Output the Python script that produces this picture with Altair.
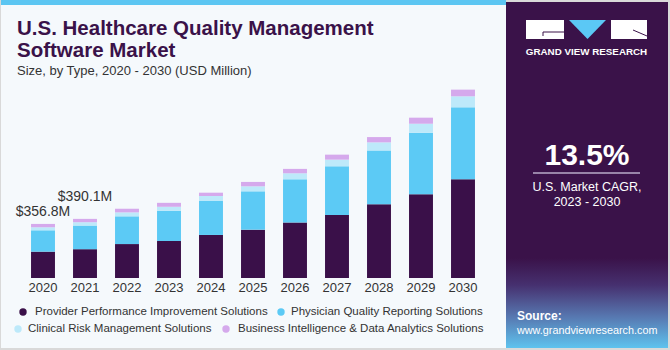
import altair as alt
import pandas as pd

# ---------------- data ----------------
years = [str(y) for y in range(2020, 2031)]
series = [
    "Provider Performance Improvement Solutions",
    "Physician Quality Reporting Solutions",
    "Clinical Risk Management Solutions",
    "Business Intelligence & Data Analytics Solutions",
]
provider = [173.8, 190.1, 224, 244, 284, 319, 367, 416, 486, 552, 651]
physician = [141, 156, 183, 200, 224, 253, 284, 321, 356, 407, 475]
clinical = [20, 22, 26, 26, 33, 33, 40, 44, 53, 59, 73]
bi_analytics = [22, 22, 24, 26, 22, 29, 29, 33, 35, 40, 44]
colors = ["#3a1049", "#5ccaf5", "#bde9fa", "#d5a9ec"]

label_years = ["2020", "2021"]
label_texts = ["$356.8M", "$390.1M"]

rows = []
for i, y in enumerate(years):
    for k, vals in enumerate([provider, physician, clinical, bi_analytics]):
        rows.append({"year": y, "segment": series[k], "value": vals[i], "order": k})
df = pd.DataFrame(rows)
totals = pd.DataFrame({"year": years,
                       "total": [a + b + c + d for a, b, c, d in zip(provider, physician, clinical, bi_analytics)]})
labels = totals[totals["year"].isin(label_years)].copy()
labels["text"] = label_texts
one = pd.DataFrame({"a": [0]})

DARK = "#3a1249"
FONT = "Liberation Sans"

x_enc = alt.X("year:N", axis=None,
              scale=alt.Scale(domain=years, range=[22, 484], paddingInner=0.43, paddingOuter=0.215))
y_scale = alt.Scale(domain=[0, 1300], range=[278, 81])

base1 = alt.Chart(one)

def rect(x, x2, y, y2, color, **kw):
    return base1.mark_rect(color=color, **kw).encode(
        x=alt.value(x), x2=alt.value(x2), y=alt.value(y), y2=alt.value(y2))

def text(t, x, y, size, color, weight="normal", align="left", baseline="alphabetic", **kw):
    return base1.mark_text(text=t, fontSize=size, color=color, fontWeight=weight, font=FONT,
                           align=align, baseline=baseline, **kw).encode(x=alt.value(x), y=alt.value(y))

# ------------- panels -------------
left_bg = rect(1, 506, 0, 348, "#f5f9fc")
top_stripe = rect(1, 506, 0, 5, "#5cc6f2")
right_bg = rect(506, 668, 2, 348, DARK)
grad = base1.mark_rect(color=alt.LinearGradient(
    gradient="linear", x1=0, x2=0, y1=0, y2=1,
    stops=[alt.GradientStop(color=DARK, offset=0),
           alt.GradientStop(color="#46306f", offset=0.3),
           alt.GradientStop(color="#5777b0", offset=0.65),
           alt.GradientStop(color="#5ec3ee", offset=1)])).encode(
    x=alt.value(506), x2=alt.value(668), y=alt.value(258), y2=alt.value(348))

# logo
logo_l = rect(526, 564, 20, 39, "#ffffff")
logo_r = rect(611, 647, 20, 39, "#ffffff")
logo_tri = base1.mark_point(shape="M -1 -0.51 L 1 -0.51 L 0 0.51 Z", size=1369, filled=True,
                            opacity=1, color="#5bc8f5").encode(x=alt.value(587.5), y=alt.value(29.5))
logo_line1 = base1.mark_rule(color=DARK, strokeWidth=1).encode(
    x=alt.value(543), x2=alt.value(564), y=alt.value(32), y2=alt.value(32))
logo_line2 = base1.mark_rule(color=DARK, strokeWidth=1).encode(
    x=alt.value(543), x2=alt.value(543), y=alt.value(32), y2=alt.value(36))
logo_line3 = base1.mark_rule(color=DARK, strokeWidth=1).encode(
    x=alt.value(633), x2=alt.value(647), y=alt.value(30), y2=alt.value(36))
logo_text = text("GRAND VIEW RESEARCH", 586.5, 55, 9.8, "#ffffff", weight="bold", align="center")

cagr = text("13.5%", 587, 165, 30, "#ffffff", weight="bold", align="center")
divider = base1.mark_rule(color="#b9abc9", strokeWidth=1.5).encode(
    x=alt.value(533), x2=alt.value(640), y=alt.value(173), y2=alt.value(173))
cagr_txt = text(["U.S. Market CAGR,", "2023 - 2030"], 587, 191, 12.5, "#ffffff",
                align="center", lineHeight=15)
src1 = text("Source:", 517, 320, 12, "#ffffff", weight="bold")
src2 = text("www.grandviewresearch.com", 517, 334, 10.8, "#ffffff")

# ------------- titles -------------
t1 = text("U.S. Healthcare Quality Management", 17, 35, 20.5, DARK, weight="bold")
t2 = text("Software Market", 17, 57, 20.5, DARK, weight="bold")
t3 = text("Size, by Type, 2020 - 2030 (USD Million)", 17, 75, 13, "#333333")

# ------------- bars -------------
bars = alt.Chart(df).mark_bar().encode(
    x=x_enc,
    y=alt.Y("value:Q", stack="zero", scale=y_scale, axis=None),
    color=alt.Color("segment:N", scale=alt.Scale(domain=series, range=colors), legend=None),
    order=alt.Order("order:Q"),
)

year_labels = alt.Chart(totals).mark_text(fontSize=13, color="#333333", font=FONT,
                                          baseline="alphabetic").encode(
    x=x_enc, y=alt.value(292), text="year:N")

lab_a = alt.Chart(labels).transform_filter(alt.datum.year == "2020").mark_text(
    fontSize=14, color="#333333", font=FONT, baseline="alphabetic", dy=-8).encode(
    x=x_enc, y=alt.Y("total:Q", scale=y_scale, axis=None), text="text:N")
lab_b = alt.Chart(labels).transform_filter(alt.datum.year == "2021").mark_text(
    fontSize=14, color="#333333", font=FONT, baseline="alphabetic", dy=-18).encode(
    x=x_enc, y=alt.Y("total:Q", scale=y_scale, axis=None), text="text:N")

# ------------- legend -------------
leg_pos = [(23, 312, 35), (281, 312, 291), (18, 329, 28), (226, 329, 238)]
legend_layers = []
for k, (cx, cy, tx) in enumerate(leg_pos):
    legend_layers.append(base1.mark_circle(size=55, opacity=1, color=colors[k]).encode(
        x=alt.value(cx), y=alt.value(cy)))
    legend_layers.append(text(series[k], tx, cy, 11.5, "#333333", baseline="middle"))

chart = alt.layer(
    left_bg, top_stripe, right_bg, grad,
    logo_l, logo_r, logo_tri, logo_line1, logo_line2, logo_line3, logo_text,
    cagr, divider, cagr_txt, src1, src2,
    t1, t2, t3,
    bars, year_labels, lab_a, lab_b,
    *legend_layers,
).resolve_scale(x="shared", y="shared").properties(
    width=670, height=350, padding=0,
    autosize=alt.AutoSizeParams(type="none"),
    background="#d9d9d9",
).configure_view(stroke=None)

chart.save("out.html", embed_options={"renderer": "svg", "actions": False})
